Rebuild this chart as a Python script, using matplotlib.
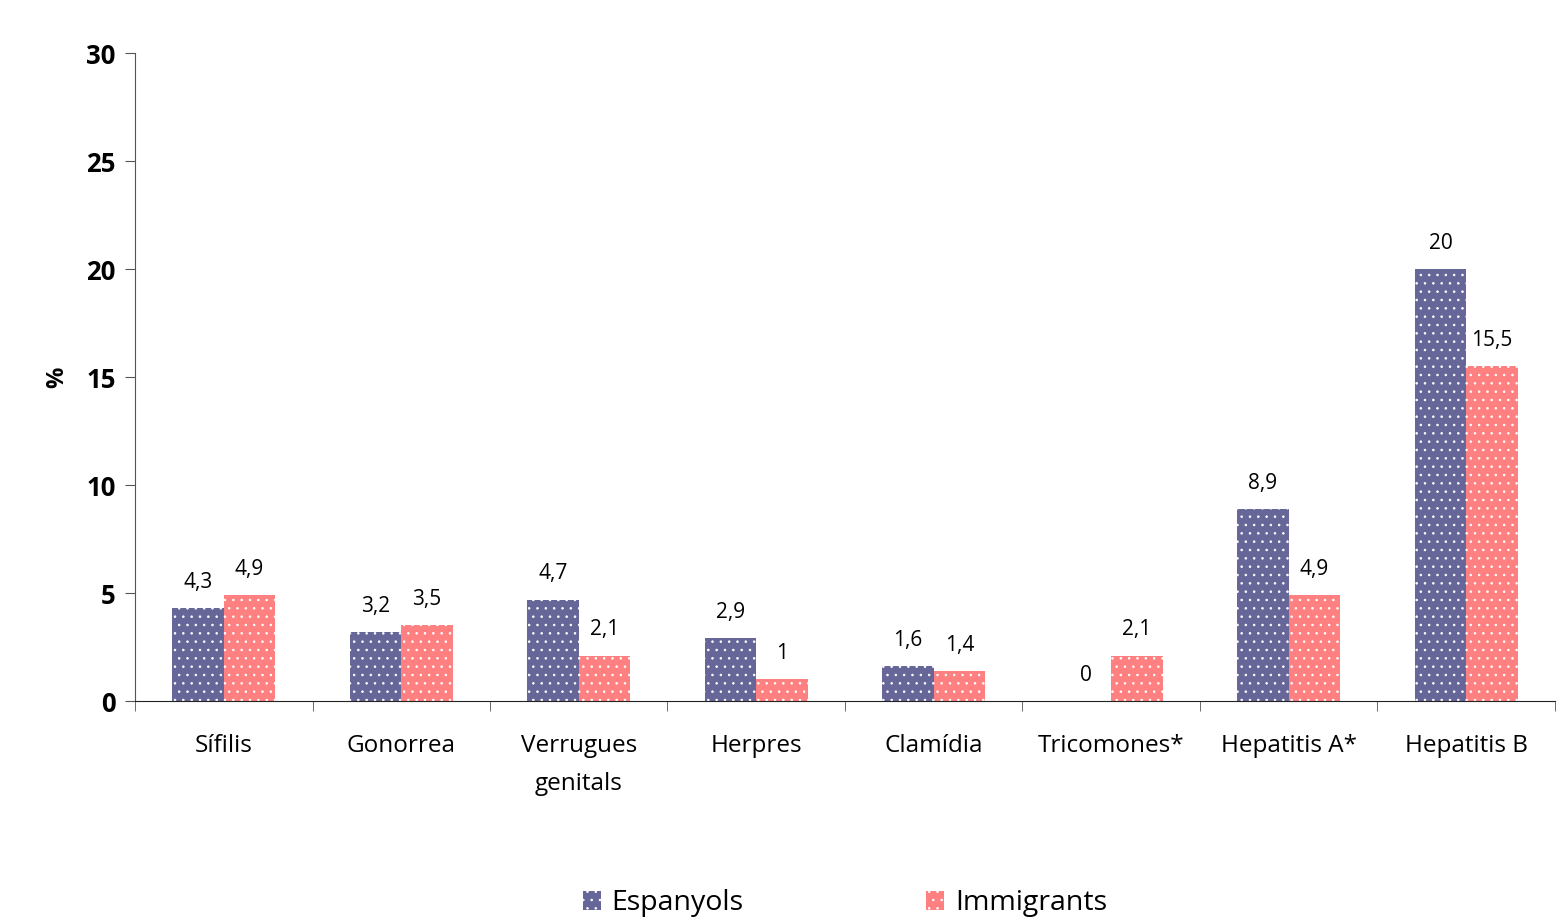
import numpy as np
import matplotlib.pyplot as plt

plt.rcParams['font.family'] = ['Open Sans', 'DejaVu Sans']
plt.rcParams['hatch.linewidth'] = 0.6

categories = ['Sífilis', 'Gonorrea', 'Verrugues\ngenitals', 'Herpres',
              'Clamídia', 'Tricomones*', 'Hepatitis A*', 'Hepatitis B']
espanyols = [4.3, 3.2, 4.7, 2.9, 1.6, 0, 8.9, 20]
immigrants = [4.9, 3.5, 2.1, 1.0, 1.4, 2.1, 4.9, 15.5]
esp_labels = ['4,3', '3,2', '4,7', '2,9', '1,6', '0', '8,9', '20']
imm_labels = ['4,9', '3,5', '2,1', '1', '1,4', '2,1', '4,9', '15,5']

blue = '#666699'
pink = '#ff8080'

fig = plt.figure(figsize=(15.59, 9.17), dpi=100)
ax = fig.add_axes([0.0866, 0.2355, 0.9108, 0.7067])

x = np.arange(len(categories))
w = 0.29
b1 = ax.bar(x - w / 2, espanyols, w, color=blue, edgecolor='white',
            linewidth=0, hatch='..', label='Espanyols')
b2 = ax.bar(x + w / 2, immigrants, w, color=pink, edgecolor='white',
            linewidth=0, hatch='..', label='Immigrants')

for bars, labs in [(b1, esp_labels), (b2, imm_labels)]:
    for r, lab in zip(bars, labs):
        ax.annotate(lab, (r.get_x() + r.get_width() / 2, r.get_height()),
                    xytext=(0, 18.5), textcoords='offset points',
                    ha='center', va='center', fontsize=15)

ax.set_xlim(-0.5, len(categories) - 0.5)
ax.set_ylim(0, 30)
ax.set_yticks(range(0, 31, 5))
ax.set_yticklabels([str(v) for v in range(0, 31, 5)], fontsize=18.5,
                   fontweight='bold')
ax.set_xticks(x)
ax.set_xticklabels(categories, fontsize=17.5, linespacing=1.75)
ax.set_xticks(np.arange(-0.5, len(categories), 1), minor=True)
ax.tick_params(axis='x', which='major', length=0, pad=24)
ax.tick_params(axis='x', which='minor', length=7, color='#555555')
ax.tick_params(axis='y', length=7, pad=7, color='#555555')
for lab in ax.get_xticklabels():
    lab.set_verticalalignment('top')

ax.set_ylabel('%', fontsize=17, fontweight='bold', labelpad=12)

for s in ['top', 'right']:
    ax.spines[s].set_visible(False)
ax.spines['left'].set_color('#555555')
ax.spines['bottom'].set_color('#222222')

fig.legend(handles=[b1, b2], loc='center', bbox_to_anchor=(0.542, 0.015),
           ncol=2, frameon=False, fontsize=20.5, handlelength=0.63,
           handleheight=0.63, handletextpad=0.39, columnspacing=6.4)

fig.savefig('out.png', dpi=100)
